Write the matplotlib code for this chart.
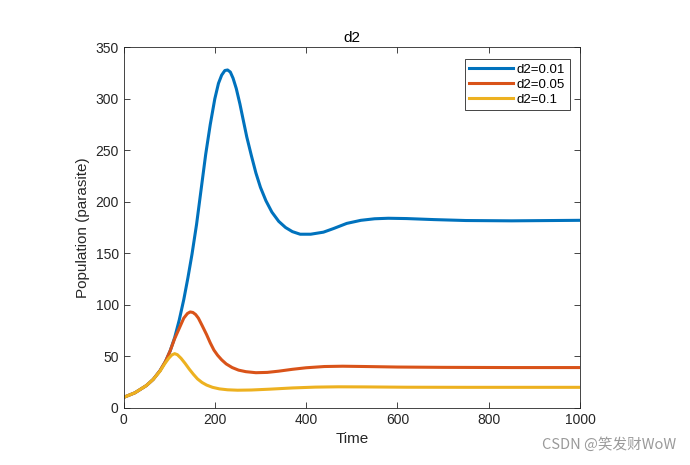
import matplotlib
matplotlib.use("Agg")
import matplotlib.pyplot as plt

# values
t_a = [0, 25, 50, 65, 80, 92, 102, 112, 122, 132, 141, 150, 160, 170, 180, 190, 200,
       208, 215, 222, 228, 234, 240, 247, 255, 262, 270, 280, 290, 300, 312, 325, 340,
       355, 370, 387, 410, 438, 460, 489, 520, 550, 580, 620, 680, 750, 850, 1000]
pop_a = [10, 14.5, 21.5, 27.5, 36, 45, 55, 68, 85, 105, 126, 149, 178, 212, 246, 275, 300,
         315, 323, 327.5, 328, 326, 320, 310, 295, 280, 263, 245, 228, 214, 201, 190, 181,
         175, 171, 168.5, 168.5, 170.5, 174, 179, 182, 183.5, 184, 183.7, 182.7, 181.8,
         181.5, 182]

t_b = [0, 25, 50, 65, 80, 92, 102, 112, 124, 132, 140, 146, 152, 158, 164, 172, 182,
       190, 198, 206, 215, 225, 238, 252, 268, 290, 315, 340, 370, 400, 440, 480, 530,
       600, 700, 850, 1000]
pop_b = [10, 14.5, 21.5, 27.5, 36, 45, 55, 67, 79, 87, 91.5, 93, 92.5, 90.5, 87, 80, 71,
         63, 56, 51, 46.5, 42.5, 39, 36.5, 35, 34, 34.3, 35.5, 37.3, 38.8, 40, 40.3, 40,
         39.5, 39.2, 39, 39]

t_c = [0, 25, 50, 65, 80, 90, 99, 106, 112, 118, 126, 135, 144, 153, 162, 172, 182,
       195, 210, 228, 250, 280, 320, 370, 420, 470, 530, 620, 750, 1000]
pop_c = [10, 14.5, 21.5, 27.5, 35.5, 42.5, 48, 51.3, 52.5, 51.5, 48, 43, 37.5, 32.5, 28,
         24.5, 22, 19.8, 18.3, 17.4, 17, 17.2, 18, 19.2, 20, 20.3, 20.2, 19.9, 19.8, 19.8]

labels = ["d2=0.01", "d2=0.05", "d2=0.1"]
colors = ["#0072BD", "#D95319", "#EDB120"]

plt.rcParams['font.family'] = ['Liberation Sans', 'DejaVu Sans']
fig = plt.figure(figsize=(6.9, 4.65), dpi=100)
ax = fig.add_axes([0.179, 0.1232, 0.6616, 0.775])

ax.plot(t_a, pop_a, color=colors[0], lw=2.2, label=labels[0], solid_joinstyle='round')
ax.plot(t_b, pop_b, color=colors[1], lw=2.2, label=labels[1], solid_joinstyle='round')
ax.plot(t_c, pop_c, color=colors[2], lw=2.2, label=labels[2], solid_joinstyle='round')

ax.set_xlim(0, 1000)
ax.set_ylim(0, 350)
ax.set_xticks(range(0, 1001, 200))
ax.set_yticks(range(0, 351, 50))
ax.tick_params(direction='in', length=4, width=0.6, colors='#262626',
               labelsize=10, top=True, right=True, labeltop=False, labelright=False)
for s in ax.spines.values():
    s.set_color('#262626')
    s.set_linewidth(0.6)

ax.set_title("d2", fontsize=11, color='#000000', pad=4)
ax.set_xlabel("Time", fontsize=11, color='#262626')
ax.set_ylabel("Population (parasite)", fontsize=11, color='#262626')

leg = ax.legend(loc='upper right', bbox_to_anchor=(0.978, 0.967), borderaxespad=0,
                fontsize=9.5, handlelength=3.3, fancybox=False, framealpha=1,
                edgecolor='#262626', borderpad=0.35, labelspacing=0.2, handletextpad=0.3)
leg.get_frame().set_linewidth(0.6)

fig.text(0.98, 0.045, "CSDN @笑发财WoW", ha='right', va='center', fontsize=10.5,
         color='#9a9a9a', family=['Noto Sans CJK SC', 'DejaVu Sans'])

fig.savefig("out.png", dpi=100)
